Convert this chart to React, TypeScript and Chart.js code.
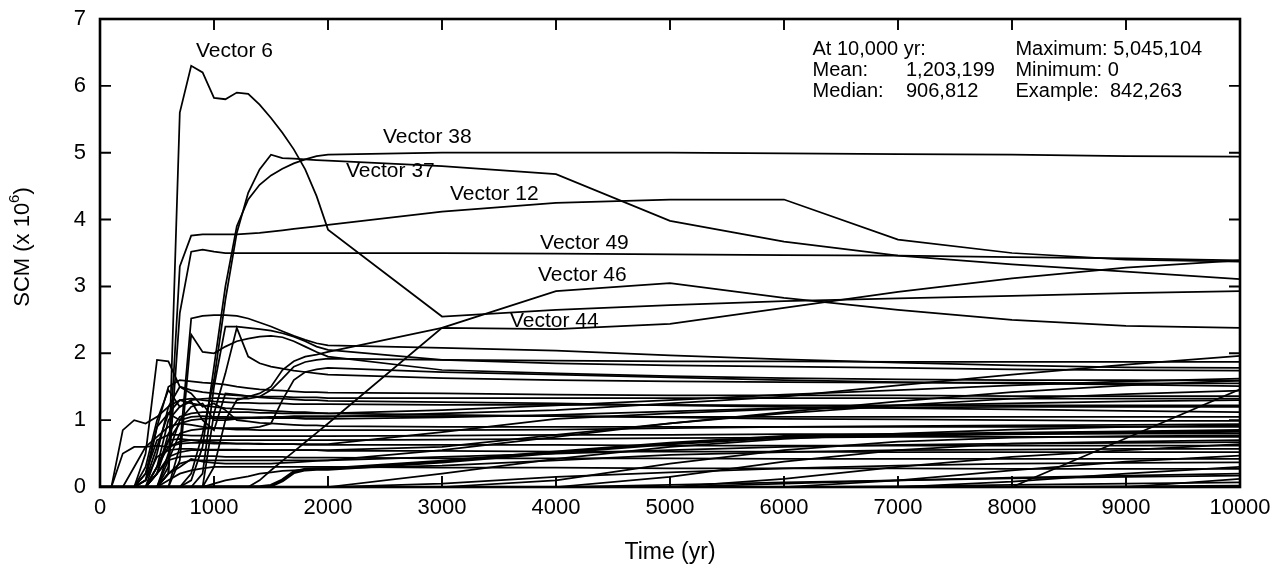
import React, { useEffect, useRef } from "react";
import { Chart, registerables } from "chart.js";
Chart.register(...registerables);

const FONT = "'Liberation Sans', Arial, Helvetica, sans-serif";

// Time grid (yr)
const years = [0, 100, 200, 300, 400, 500, 600, 700, 800, 900, 1000, 1100, 1200, 1300, 1400, 1500, 1600, 1700, 1800, 1900, 2000, 3000, 4000, 5000, 6000, 7000, 8000, 9000, 10000];

// SCM (x 10^6) per vector, on the grid above
const vector6 = [0, 0, 0, 0, 0, 0, 0.2, 5.6, 6.3, 6.2, 5.82, 5.8, 5.9, 5.88, 5.72, 5.52, 5.3, 5.05, 4.75, 4.35, 3.85, 2.55, 2.65, 2.72, 2.78, 2.82, 2.86, 2.9, 2.93];
const vector38 = [0, 0, 0, 0, 0, 0, 0, 0, 0.1, 0.6, 1.8, 3.0, 3.9, 4.3, 4.52, 4.66, 4.76, 4.84, 4.9, 4.95, 4.97, 5.0, 5.0, 5.0, 4.99, 4.98, 4.97, 4.95, 4.94];
const vector37 = [0, 0, 0, 0, 0, 0, 0, 0, 0.2, 0.8, 1.6, 2.8, 3.8, 4.4, 4.75, 4.97, 4.92, 4.91, 4.9, 4.89, 4.88, 4.8, 4.68, 3.98, 3.67, 3.46, 3.33, 3.22, 3.11];
const vector12 = [0, 0, 0, 0, 0, 0, 0.3, 3.3, 3.76, 3.78, 3.78, 3.78, 3.78, 3.79, 3.8, 3.82, 3.84, 3.86, 3.88, 3.9, 3.92, 4.12, 4.25, 4.3, 4.3, 3.7, 3.5, 3.4, 3.37];
const vector49 = [0, 0, 0, 0, 0, 0, 0.2, 2.6, 3.52, 3.55, 3.52, 3.5, 3.5, 3.5, 3.5, 3.5, 3.5, 3.5, 3.5, 3.5, 3.5, 3.5, 3.49, 3.48, 3.47, 3.46, 3.44, 3.42, 3.39];
const vector46 = [0, 0, 0, 0, 0, 0, 0, 0, 0, 0, 0, 0, 0, 0, 0.1, 0.25, 0.39, 0.53, 0.67, 0.81, 0.95, 2.38, 2.93, 3.05, 2.83, 2.65, 2.5, 2.41, 2.38];
const vector44 = [0, 0, 0, 0, 0, 0, 0, 0, 0, 0, 0.3, 1.0, 1.3, 1.35, 1.4, 1.5, 1.75, 1.88, 1.95, 1.98, 2.02, 2.38, 2.36, 2.44, 2.68, 2.92, 3.12, 3.28, 3.39];
const lineA = [0, 0, 0, 0, 0, 0, 0, 0.6, 2.52, 2.56, 2.57, 2.57, 2.56, 2.52, 2.46, 2.4, 2.33, 2.26, 2.2, 2.15, 2.12, 2.08, 2.04, 1.97, 1.91, 1.86, 1.82, 1.79, 1.78];
const lineB = [0, 0, 0, 0, 0, 0, 0, 0, 0, 0, 1.1, 1.7, 2.38, 1.95, 1.85, 1.8, 1.77, 1.74, 1.72, 1.7, 1.68, 1.63, 1.6, 1.58, 1.57, 1.56, 1.56, 1.55, 1.55];
const lineC = [0, 0, 0, 0, 0, 0, 0, 0.4, 2.28, 2.02, 2.0, 2.1, 2.18, 2.22, 2.25, 2.26, 2.24, 2.18, 2.1, 2.02, 1.95, 1.75, 1.7, 1.66, 1.63, 1.61, 1.6, 1.6, 1.59];
const lineD = [0, 0, 0, 0, 0, 0, 0, 0, 0, 0.2, 1.5, 2.4, 2.4, 2.38, 2.36, 2.34, 2.3, 2.25, 2.18, 2.1, 2.05, 1.9, 1.85, 1.82, 1.8, 1.78, 1.76, 1.75, 1.74];
const lineS1 = [0, 0, 0, 0, 0, 0.3, 1.0, 1.2, 1.3, 1.32, 1.33, 1.33, 1.32, 1.32, 1.35, 1.45, 1.62, 1.8, 1.87, 1.9, 1.92, 1.9, 1.89, 1.88, 1.88, 1.87, 1.87, 1.87, 1.87];
const lineS2 = [0, 0, 0, 0, 0, 0, 0.4, 0.8, 0.85, 0.87, 0.88, 0.88, 0.88, 0.88, 0.9, 0.95, 1.3, 1.6, 1.72, 1.76, 1.78, 1.72, 1.68, 1.64, 1.6, 1.57, 1.55, 1.53, 1.51];
const lineF = [0, 0, 0, 0, 0.5, 1.9, 1.88, 1.5, 1.45, 1.42, 1.4, 1.38, 1.37, 1.36, 1.35, 1.35, 1.35, 1.34, 1.34, 1.34, 1.33, 1.33, 1.33, 1.33, 1.33, 1.33, 1.32, 1.32, 1.32];
const lineG = [0, 0, 0.85, 1.0, 0.95, 1.05, 1.2, 1.3, 1.25, 1.22, 1.2, 1.18, 1.17, 1.16, 1.15, 1.14, 1.13, 1.12, 1.12, 1.11, 1.1, 1.08, 1.06, 1.04, 1.02, 1.01, 1.0, 0.99, 0.99];
const lineH = [0, 0, 0.5, 0.6, 0.6, 0.75, 0.9, 0.95, 0.93, 0.9, 0.88, 0.87, 0.86, 0.86, 0.85, 0.85, 0.85, 0.85, 0.85, 0.85, 0.85, 0.85, 0.86, 0.88, 0.9, 0.91, 0.92, 0.93, 0.94];
const lineI = [0, 0, 0, 0, 0.2, 0.9, 1.5, 1.6, 1.58, 1.56, 1.55, 1.53, 1.5, 1.48, 1.46, 1.45, 1.44, 1.43, 1.42, 1.42, 1.41, 1.4, 1.38, 1.37, 1.37, 1.37, 1.36, 1.36, 1.36];
const lineJ = [0, 0, 0, 0, 0.1, 0.6, 1.1, 1.3, 1.32, 1.3, 1.28, 1.27, 1.26, 1.26, 1.25, 1.25, 1.25, 1.24, 1.24, 1.24, 1.24, 1.23, 1.23, 1.23, 1.22, 1.22, 1.22, 1.22, 1.22];
const lineK = [0, 0, 0, 0, 0, 0.3, 0.7, 0.72, 0.7, 0.68, 0.67, 0.66, 0.65, 0.65, 0.65, 0.64, 0.64, 0.64, 0.64, 0.64, 0.64, 0.82, 1.02, 1.1, 1.17, 1.19, 1.2, 1.2, 1.2];
const lineL = [0, 0, 0, 0, 0, 0, 0, 0, 0, 0, 0, 0, 0, 0, 0, 0, 0, 0, 0, 0, 0, 0, 0, 0, 0, 0, 0, 0.73, 1.46];
const lineM = [0, 0, 0, 0, 0, 0, 0, 0, 0, 0, 0, 0, 0, 0, 0, 0, 0, 0, 0, 0, 0, 0.2, 0.42, 0.6, 0.72, 0.8, 0.86, 0.9, 0.92];
const lineN = [0, 0, 0, 0, 0, 0, 0, 0, 0, 0, 0, 0, 0, 0, 0, 0, 0, 0, 0, 0, 0, 0, 0.1, 0.35, 0.55, 0.68, 0.74, 0.76, 0.77];
const lineO = [0, 0, 0, 0, 0, 0, 0, 0, 0, 0, 0, 0, 0, 0, 0, 0, 0, 0, 0, 0, 0, 0, 0, 0.15, 0.38, 0.55, 0.65, 0.68, 0.7];
const lineP = [0, 0, 0, 0, 0, 0, 0, 0, 0, 0, 0, 0, 0, 0, 0, 0, 0, 0, 0, 0, 0, 0, 0, 0, 0.12, 0.3, 0.45, 0.55, 0.64];
const lineQ = [0, 0, 0, 0, 0, 0, 0, 0, 0, 0, 0, 0, 0, 0, 0, 0, 0, 0, 0, 0, 0, 0, 0, 0, 0, 0.1, 0.25, 0.38, 0.47];
const lineR = [0, 0, 0, 0, 0, 0, 0, 0, 0, 0, 0, 0, 0, 0, 0, 0, 0, 0, 0, 0, 0, 0, 0, 0, 0, 0, 0.08, 0.2, 0.3];
const lineT = [0, 0, 0, 0, 0, 0, 0, 0, 0, 0, 0, 0, 0, 0, 0, 0, 0, 0, 0, 0, 0, 0, 0, 0, 0, 0, 0, 0, 0.12];
const lineU = [0, 0, 0, 0, 0, 0, 0, 0, 0, 0, 0, 0, 0, 0, 0, 0, 0, 0, 0, 0, 0, 0, 0, 0, 0.05, 0.1, 0.14, 0.17, 0.2];
const lineV = [0, 0, 0, 0, 0, 0, 0, 0, 0, 0, 0.05, 0.1, 0.13, 0.16, 0.2, 0.22, 0.24, 0.25, 0.26, 0.27, 0.28, 0.32, 0.4, 0.48, 0.52, 0.55, 0.56, 0.57, 0.57];
const lineW = [0, 0, 0, 0, 0, 0.2, 0.45, 0.52, 0.55, 0.55, 0.55, 0.55, 0.55, 0.55, 0.55, 0.55, 0.55, 0.55, 0.55, 0.55, 0.55, 0.6, 0.78, 0.95, 1.1, 1.22, 1.32, 1.39, 1.44];
const lineX = [0, 0, 0, 0, 0, 0, 0.2, 0.35, 0.4, 0.4, 0.4, 0.4, 0.4, 0.4, 0.4, 0.4, 0.4, 0.4, 0.4, 0.4, 0.4, 0.55, 0.75, 0.95, 1.12, 1.28, 1.42, 1.52, 1.59];
const lineY = [0, 0, 0, 0, 0, 0.2, 0.7, 0.95, 1.0, 1.02, 1.03, 1.03, 1.03, 1.03, 1.03, 1.04, 1.04, 1.04, 1.05, 1.05, 1.05, 1.1, 1.15, 1.25, 1.35, 1.52, 1.68, 1.83, 1.96];
const lineZ1 = [0, 0, 0, 0, 0, 0.2, 0.8, 1.05, 1.1, 1.12, 1.12, 1.12, 1.12, 1.12, 1.11, 1.11, 1.1, 1.1, 1.1, 1.1, 1.1, 1.15, 1.22, 1.3, 1.38, 1.45, 1.52, 1.58, 1.62];
const lineZ3 = [0, 0, 0, 0, 0, 0, 0.5, 1.0, 1.05, 1.06, 1.05, 1.05, 1.04, 1.04, 1.04, 1.03, 1.03, 1.03, 1.02, 1.02, 1.02, 1.04, 1.08, 1.13, 1.18, 1.22, 1.25, 1.28, 1.3];
const lineZ4 = [0, 0, 0, 0, 0.2, 0.7, 0.78, 0.78, 0.77, 0.77, 0.76, 0.76, 0.76, 0.76, 0.76, 0.76, 0.76, 0.76, 0.76, 0.76, 0.76, 0.77, 0.78, 0.78, 0.79, 0.79, 0.8, 0.8, 0.8];
const lineZ5 = [0, 0, 0, 0, 0, 0.3, 0.6, 0.68, 0.7, 0.7, 0.7, 0.7, 0.7, 0.7, 0.7, 0.7, 0.7, 0.7, 0.7, 0.7, 0.7, 0.71, 0.72, 0.73, 0.74, 0.75, 0.75, 0.75, 0.75];
const lineZ6 = [0, 0, 0, 0, 0, 0, 0.2, 0.3, 0.42, 0.38, 0.36, 0.35, 0.35, 0.35, 0.35, 0.35, 0.36, 0.37, 0.38, 0.39, 0.4, 0.45, 0.5, 0.55, 0.6, 0.63, 0.65, 0.66, 0.67];
const lineZ7 = [0, 0, 0, 0, 0.1, 0.45, 0.55, 0.57, 0.57, 0.56, 0.56, 0.56, 0.56, 0.55, 0.55, 0.55, 0.55, 0.55, 0.55, 0.55, 0.54, 0.54, 0.53, 0.53, 0.53, 0.52, 0.52, 0.52, 0.52];
const lineZ8 = [0, 0, 0, 0, 0, 0.2, 0.4, 0.45, 0.46, 0.46, 0.46, 0.45, 0.45, 0.45, 0.45, 0.45, 0.45, 0.44, 0.44, 0.44, 0.44, 0.43, 0.43, 0.43, 0.42, 0.42, 0.42, 0.42, 0.42];
const lineZ9 = [0, 0, 0, 0, 0, 0, 0, 0, 0, 0, 0, 0, 0, 0, 0, 0, 0, 0, 0, 0, 0, 0.05, 0.15, 0.22, 0.28, 0.32, 0.35, 0.36, 0.37];
const lineZ10 = [0, 0, 0, 0, 0, 0, 0.1, 0.2, 0.25, 0.28, 0.3, 0.3, 0.3, 0.3, 0.3, 0.3, 0.3, 0.3, 0.3, 0.3, 0.3, 0.29, 0.29, 0.28, 0.28, 0.28, 0.27, 0.27, 0.27];
const lineZ11 = [0, 0, 0, 0, 0, 0, 0, 0, 0, 0, 0, 0, 0, 0, 0, 0, 0, 0, 0, 0, 0, 0, 0, 0.03, 0.07, 0.1, 0.13, 0.15, 0.17];
const lineZ12 = [0, 0, 0, 0, 0, 0, 0, 0, 0, 0, 0, 0, 0, 0, 0, 0, 0, 0, 0, 0, 0, 0, 0, 0, 0, 0.01, 0.03, 0.05, 0.07];
const lineZ13 = [0, 0, 0, 0, 0, 0, 0, 0, 0, 0, 0, 0, 0, 0, 0, 0, 0, 0, 0, 0, 0, 0, 0, 0, 0, 0, 0, 0.01, 0.02];
const lineZ14 = [0, 0, 0, 0, 0, 0, 0, 0, 0, 0, 0, 0, 0, 0, 0, 0, 0, 0, 0, 0, 0, 0, 0, 0, 0, 0, 0, 0, 0];
const lineE1 = [0, 0, 0, 0, 0.3, 1.0, 1.45, 1.2, 1.28, 1.0, 0.85, 1.4, 1.38, 1.36, 1.34, 1.33, 1.32, 1.31, 1.3, 1.3, 1.29, 1.27, 1.25, 1.22, 1.2, 1.18, 1.16, 1.14, 1.12];
const lineE2 = [0, 0, 0, 0, 0.1, 0.9, 1.1, 1.0, 1.2, 1.25, 1.0, 1.0, 1.02, 1.03, 1.04, 1.05, 1.05, 1.06, 1.06, 1.06, 1.06, 1.06, 1.06, 1.05, 1.05, 1.05, 1.05, 1.05, 1.05];
const lineE3 = [0, 0, 0, 0, 0, 0.5, 1.2, 1.5, 1.4, 1.2, 1.25, 1.15, 1.0, 0.98, 0.96, 0.95, 0.94, 0.93, 0.92, 0.92, 0.91, 0.9, 0.9, 0.9, 0.9, 0.9, 0.9, 0.9, 0.9];
const lineE4 = [0, 0, 0, 0.3, 0.6, 0.62, 0.6, 0.65, 0.66, 0.66, 0.65, 0.65, 0.65, 0.65, 0.64, 0.64, 0.64, 0.64, 0.63, 0.63, 0.63, 0.63, 0.63, 0.62, 0.62, 0.62, 0.62, 0.62, 0.62];
const exampleLine = [0, 0, 0, 0, 0, 0, 0, 0, 0, 0, 0, 0, 0, 0, 0, 0.02, 0.1, 0.22, 0.26, 0.27, 0.27, 0.38, 0.52, 0.65, 0.75, 0.78, 0.8, 0.82, 0.84];

const thinSeries = [
  vector6, vector38, vector37, vector12, vector49, vector46, vector44,
  lineA, lineB, lineC, lineD, lineS1, lineS2, lineF, lineG, lineH, lineI, lineJ, lineK,
  lineL, lineM, lineN, lineO, lineP, lineQ, lineR, lineT, lineU, lineV, lineW, lineX, lineY,
  lineZ1, lineZ3, lineZ4, lineZ5, lineZ6, lineZ7, lineZ8, lineZ9, lineZ10, lineZ11, lineZ12, lineZ13, lineZ14,
  lineE1, lineE2, lineE3, lineE4,
];

const xTickValues = [0, 1000, 2000, 3000, 4000, 5000, 6000, 7000, 8000, 9000, 10000];
const yTickValues = [0, 1, 2, 3, 4, 5, 6, 7];

// Vector labels: text, year (left edge), SCM (text centre)
const vectorLabels = ["Vector 6", "Vector 38", "Vector 37", "Vector 12", "Vector 49", "Vector 46", "Vector 44"];
const vectorLabelYears = [842, 2482, 2158, 3070, 3860, 3842, 3596];
const vectorLabelValues = [6.52, 5.23, 4.72, 4.38, 3.65, 3.17, 2.48];

// Statistics box
const statsLeftLabels = ["At 10,000 yr:", "Mean:", "Median:"];
const statsLeftValues = ["", "1,203,199", "906,812"];
const statsRight = ["Maximum: 5,045,104", "Minimum: 0", "Example:  842,263"];
const statsRowValues = [6.55, 6.23, 5.91];

const xTitle = "Time (yr)";
const yTitleMain = "SCM (x 10";
const yTitleSup = "6";

const framePlugin = {
  id: "frameAndNotes",
  afterDatasetsDraw(chart: any) {
    const { ctx, chartArea, scales } = chart;
    const { left, right, top, bottom } = chartArea;
    const x = scales.x;
    const y = scales.y;
    ctx.save();
    ctx.strokeStyle = "#000";
    ctx.lineWidth = 2.6;
    ctx.strokeRect(left, top, right - left, bottom - top);
    ctx.lineWidth = 1.9;
    ctx.beginPath();
    const tl = 11;
    for (const v of xTickValues) {
      if (v === 0 || v === 10000) continue;
      const px = x.getPixelForValue(v);
      ctx.moveTo(px, bottom);
      ctx.lineTo(px, bottom - tl);
      ctx.moveTo(px, top);
      ctx.lineTo(px, top + tl);
    }
    for (const v of yTickValues) {
      if (v === 0 || v === 7) continue;
      const py = y.getPixelForValue(v);
      ctx.moveTo(left, py);
      ctx.lineTo(left + tl, py);
      ctx.moveTo(right, py);
      ctx.lineTo(right - tl, py);
    }
    ctx.stroke();

    ctx.fillStyle = "#000";
    ctx.textBaseline = "middle";
    ctx.textAlign = "left";
    ctx.font = `21px ${FONT}`;
    vectorLabels.forEach((t, i) => {
      ctx.fillText(t, x.getPixelForValue(vectorLabelYears[i]), y.getPixelForValue(vectorLabelValues[i]));
    });

    ctx.font = `20px ${FONT}`;
    statsLeftLabels.forEach((t, i) => {
      ctx.fillText(t, x.getPixelForValue(6250), y.getPixelForValue(statsRowValues[i]));
    });
    statsLeftValues.forEach((t, i) => {
      if (!t) return;
      ctx.fillText(t, x.getPixelForValue(7070), y.getPixelForValue(statsRowValues[i]));
    });
    statsRight.forEach((t, i) => {
      ctx.fillText(t, x.getPixelForValue(8030), y.getPixelForValue(statsRowValues[i]));
    });

    // axis titles
    ctx.font = `23px ${FONT}`;
    ctx.textAlign = "center";
    ctx.fillText(xTitle, (left + right) / 2, 553);

    ctx.translate(23, (top + bottom) / 2 - 6);
    ctx.rotate(-Math.PI / 2);
    ctx.textAlign = "left";
    ctx.font = `22px ${FONT}`;
    const w1 = ctx.measureText(yTitleMain).width;
    ctx.font = `15px ${FONT}`;
    const w2 = ctx.measureText(yTitleSup).width;
    ctx.font = `22px ${FONT}`;
    const w3 = ctx.measureText(")").width;
    let sx = -(w1 + w2 + w3) / 2;
    ctx.fillText(yTitleMain, sx, 0);
    sx += w1;
    ctx.font = `15px ${FONT}`;
    ctx.fillText(yTitleSup, sx, -8);
    sx += w2;
    ctx.font = `22px ${FONT}`;
    ctx.fillText(")", sx, 0);
    ctx.restore();
  },
};

export default function App() {
  const canvasRef = useRef<HTMLCanvasElement | null>(null);

  useEffect(() => {
    const canvas = canvasRef.current;
    if (!canvas) return;
    const toPoints = (vals: number[]) => years.map((t, i) => ({ x: t, y: vals[i] }));
    const datasets: any[] = thinSeries.map((vals) => ({
      data: toPoints(vals),
      borderColor: "#000",
      borderWidth: 1.75,
      pointRadius: 0,
      tension: 0,
      fill: false,
    }));
    datasets.push({
      data: toPoints(exampleLine),
      borderColor: "#000",
      borderWidth: 3.6,
      pointRadius: 0,
      tension: 0,
      fill: false,
    });

    const tickFont = { family: FONT, size: 22 };
    const chart = new Chart(canvas, {
      type: "line",
      data: { datasets },
      plugins: [framePlugin],
      options: {
        responsive: false,
        animation: false,
        events: [],
        layout: { padding: { top: 19, right: 43, left: 0, bottom: 0 } },
        plugins: { legend: { display: false }, tooltip: { enabled: false } },
        scales: {
          x: {
            type: "linear",
            min: 0,
            max: 10000,
            afterBuildTicks: (s: any) => {
              s.ticks = xTickValues.map((v) => ({ value: v }));
            },
            ticks: { color: "#000", font: tickFont, padding: 8, maxRotation: 0, autoSkip: false, callback: (v: any) => String(v) },
            grid: { display: false, drawTicks: false },
            border: { display: false },
            afterFit: (s: any) => {
              s.height = 92;
              s.paddingLeft = 0;
              s.paddingRight = 0;
            },
          },
          y: {
            type: "linear",
            min: 0,
            max: 7,
            afterBuildTicks: (s: any) => {
              s.ticks = yTickValues.map((v) => ({ value: v }));
            },
            ticks: { color: "#000", font: tickFont, padding: 14, callback: (v: any) => String(v) },
            grid: { display: false, drawTicks: false },
            border: { display: false },
            afterFit: (s: any) => {
              s.width = 100;
              s.paddingTop = 0;
              s.paddingBottom = 0;
            },
          },
        },
      } as any,
    });
    return () => chart.destroy();
  }, []);

  return (
    <div style={{ position: "absolute", left: 0, top: 0, width: 1283, height: 579, background: "#fff" }}>
      <canvas ref={canvasRef} width={1283} height={579} style={{ display: "block" }} />
    </div>
  );
}
